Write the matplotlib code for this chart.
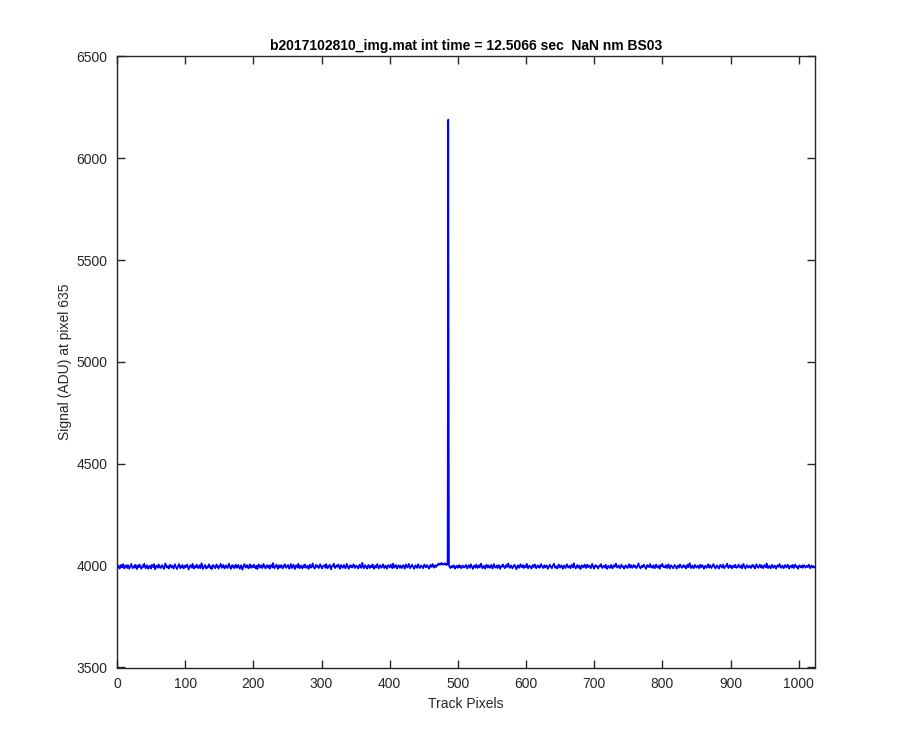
import matplotlib
matplotlib.use("Agg")
import matplotlib.pyplot as plt
import numpy as np

# Track pixel positions (1024-pixel track)
track_pixels = np.arange(0, 1024)

# Signal (ADU) at pixel 635
signal = [
    3996, 3989, 4001, 3993, 3985, 3998, 4004, 3991, 3995, 4007, 3990, 3986, 3999, 4002, 3994, 3988,
    4003, 3997, 3984, 3992, 4000, 4009, 3995, 3987, 3993, 3999, 3990, 4005, 3998, 3983, 3994, 4001,
    3992, 4006, 3996, 3989, 3985, 3997, 4003, 3993, 4010, 3999, 3987, 3991, 4002, 3996, 3984, 3995,
    4000, 3991, 3986, 4004, 3998, 3993, 4008, 3990, 3982, 3997, 4001, 3994, 3989, 4006, 4000, 3992,
    3988, 3995, 4003, 3999, 3987, 3984, 3996, 4011, 4002, 3990, 3994, 3999, 3986, 3993, 4005, 3997,
    3991, 4000, 3993, 3985, 3998, 4007, 3996, 3989, 3983, 3995, 4002, 4008, 3992, 3987, 3999, 3994,
    4004, 3990, 3986, 3997, 4001, 3992, 3999, 4006, 3993, 3981, 3990, 3998, 4003, 3995, 3989, 4009,
    3996, 3985, 3994, 4000, 3991, 4005, 3998, 3988, 3995, 4002, 3987, 3993, 4012, 3997, 3984, 3991,
    3999, 4004, 3992, 3986, 3996, 3990, 4001, 4007, 3994, 3988, 3998, 3983, 3995, 4003, 4000, 3990,
    3987, 3997, 4006, 3993, 3999, 3985, 3992, 4000, 4009, 3996, 3989, 3994, 4004, 3991, 3986, 3998,
    4002, 3994, 3988, 3995, 4010, 4001, 3990, 3984, 3997, 4003, 3993, 3999, 3987, 3992, 4005, 3996,
    3989, 3999, 4004, 3992, 3985, 3996, 4002, 3994, 3980, 3991, 4000, 4008, 3997, 3990, 3995, 4003,
    3993, 3986, 3998, 4007, 3995, 3989, 4001, 3996, 3992, 4005, 3998, 3987, 3994, 4000, 3983, 3997,
    4006, 3999, 3990, 3994, 4002, 3988, 3993, 4009, 4000, 3991, 3986, 3997, 4003, 3995, 3990, 4001,
    3985, 3996, 4004, 3998, 3991, 4013, 3997, 3987, 3994, 3999, 4006, 3992, 3984, 3996, 4002, 3990,
    3998, 4003, 3993, 3986, 3999, 3995, 4007, 4001, 3989, 3993, 3998, 4004, 3990, 3985, 3997, 4008,
    3994, 3988, 4000, 4005, 3992, 3983, 3996, 4002, 3997, 3990, 4009, 3999, 3987, 3994, 4001, 3993,
    3986, 3997, 4003, 3991, 4006, 3998, 3989, 3995, 4000, 3984, 3992, 4005, 3996, 3990, 3999, 4011,
    3995, 3990, 3985, 3998, 4004, 3993, 4001, 3996, 3988, 3994, 4007, 4002, 3991, 3986, 3997, 4000,
    4003, 3994, 3989, 4008, 3996, 3987, 3992, 3999, 4005, 3993, 3982, 3995, 4001, 3997, 4010, 3992,
    3988, 3996, 4002, 3994, 3999, 4006, 3990, 3985, 3997, 4003, 3994, 3989, 3998, 4004, 3992, 3987,
    3995, 4009, 3998, 3991, 3984, 3997, 4002, 3993, 4000, 3990, 3996, 4007, 3999, 3988, 3994, 4001,
    3997, 3990, 3986, 4000, 4005, 3994, 3989, 3998, 4014, 3995, 3987, 3993, 4003, 3996, 3991, 3985,
    3999, 4004, 3993, 3988, 3996, 4001, 3992, 4006, 3997, 3984, 3995, 4000, 3990, 3998, 4008, 3994,
    3986, 3993, 4002, 3997, 3990, 3995, 4007, 3999, 3988, 3994, 4001, 3992, 3985, 3996, 4003, 4000,
    3991, 3998, 4005, 3994, 3987, 4010, 3996, 3990, 3999, 4004, 3993, 3986, 3997, 4002, 3995, 3989,
    4001, 3994, 3988, 3996, 4003, 3999, 3985, 3992, 4006, 3998, 3991, 3995, 4009, 3997, 3987, 3993,
    3998, 4005, 3996, 3990, 3984, 3997, 4002, 3994, 3989, 4000, 4007, 3993, 3988, 3995, 4001, 3997,
    3992, 3987, 3999, 4006, 3998, 3991, 3995, 4003, 3996, 3990, 3985, 3998, 4004, 3994, 3999, 4008,
    3995, 3990, 3997, 4002, 3993, 3999, 4004, 4009, 4003, 4007, 4011, 4005, 4013, 4008, 4004, 4010,
    4006, 4012, 4007, 4003, 4009, 4005, 6190, 4001, 3995, 3988, 3993, 3999, 3991, 3996, 4002, 3990,
    3985, 3997, 3994, 4000, 3989, 3995, 4003, 3992, 3998, 3987, 3993, 4001, 3996, 3990, 3994, 3999,
    4004, 3991, 3986, 3997, 4002, 3995, 3989, 4007, 3998, 3993, 3984, 3996, 4001, 3994, 3990, 4006,
    3997, 3988, 3995, 4003, 3992, 3999, 4010, 3996, 3987, 3994, 4000, 3991, 3985, 3998, 4005, 3993,
    3990, 4002, 3996, 3989, 3997, 4004, 3993, 3986, 3999, 4008, 3995, 3990, 3996, 4001, 3988, 3994,
    4003, 3997, 3984, 3992, 4000, 3995, 4006, 3999, 3991, 3987, 3998, 4004, 3993, 3996, 4011, 3998,
    3989, 3994, 4001, 3996, 3986, 3993, 3999, 4005, 3997, 3990, 3982, 3995, 4002, 3994, 3989, 4000,
    4007, 3996, 3991, 3998, 4003, 3988, 3994, 4000, 3992, 4009, 3999, 3986, 3993, 4001, 3996, 3990,
    3985, 3997, 4004, 3993, 3998, 4006, 3991, 3987, 3995, 4002, 3994, 3999, 3989, 3996, 4008, 4001,
    3993, 3988, 3996, 4003, 3990, 3995, 4001, 3997, 3984, 3992, 3999, 4005, 3996, 3991, 3987, 3998,
    4004, 4010, 3995, 3989, 3997, 3992, 3986, 3999, 4006, 3994, 3990, 3997, 4002, 3993, 3985, 3996,
    4001, 3994, 3988, 3998, 4007, 3996, 3991, 3995, 4000, 3987, 3993, 4004, 3997, 3990, 4012, 3999,
    3992, 3986, 3997, 4003, 3994, 3989, 4001, 3996, 3983, 3995, 4002, 3998, 3991, 3996, 4006, 3993,
    3988, 3999, 4005, 3992, 3997, 4001, 3994, 3987, 3996, 4009, 4000, 3990, 3985, 3997, 4003, 3995,
    3999, 3991, 3986, 3995, 4002, 3997, 4008, 3993, 3988, 3994, 4000, 3996, 3990, 4005, 3998, 3984,
    3993, 4000, 3996, 3989, 3995, 4004, 3991, 3986, 3998, 4003, 3994, 3999, 4010, 3996, 3990, 3995,
    4001, 3994, 3987, 3997, 4006, 3999, 3992, 3996, 3985, 3993, 4002, 3997, 3991, 3988, 3999, 4007,
    3996, 3990, 4003, 3995, 3989, 3998, 4004, 3993, 4000, 3996, 3987, 3994, 4001, 4011, 3997, 3991,
    3986, 3995, 4000, 3992, 3998, 4005, 3996, 3990, 3984, 3997, 4003, 3994, 3999, 3993, 4008, 4000,
    3991, 3997, 3989, 4002, 3995, 3987, 3999, 4006, 3994, 3990, 3996, 4001, 3985, 3993, 4004, 3997,
    4009, 3998, 3992, 3996, 3990, 4003, 3995, 3988, 4000, 4007, 3993, 3986, 3997, 4002, 3996, 3991,
    3987, 3995, 4004, 3999, 3993, 3985, 3996, 4001, 3997, 3990, 4006, 3999, 3994, 3989, 3996, 4003,
    3994, 4000, 3991, 3986, 3998, 4005, 3992, 3997, 4012, 3996, 3988, 3995, 4001, 3993, 3987, 3999,
    4004, 3996, 3990, 3995, 4001, 3994, 3987, 3999, 4005, 3991, 3997, 4002, 3994, 3984, 3996, 4000,
    3993, 3989, 3998, 4007, 3996, 3990, 4003, 3995, 3988, 3994, 4001, 4008, 3997, 3992, 3986, 3995,
    4002, 3997, 3991, 3985, 3996, 4004, 3999, 3993, 3990, 4006, 3996, 3987, 3994, 4000, 3998, 4010,
    3995, 3988, 3997, 4003, 3992, 3999, 3986, 3994, 4001, 3997, 3991, 4005, 3996, 3989, 3993, 3999,
    4006, 3994, 3990, 3996, 4002, 3987, 3995, 4009, 3998, 3992, 3985, 3997, 4003, 3996, 3990, 3994,
    4000, 3993, 3988, 3998, 4004, 3995, 4001, 3991, 3986, 3996, 4007, 3999, 3993, 3989, 3997, 4005,
    3996, 3990, 4002, 3994, 3987, 3998, 4003, 3995, 3991, 4011, 3997, 3988, 3994, 4000, 3992, 3986,
    3998, 4004, 3995, 3990, 3997, 4001, 3993, 3985, 3996, 4002, 3994, 3999, 4008, 3995, 3989, 3993,
    4001, 3996, 3987, 3994, 4003, 3997, 3991, 3999, 4005, 3993, 3986, 3995, 4000, 3997, 3990, 4004,
    3994, 3988, 3999, 4006, 3996, 3992, 3997, 3984, 3993, 4002, 3998, 3991, 3995, 4001, 3989, 3996,
    4003, 3997, 3990, 3995, 4000, 3993, 3998, 4005, 3992, 3987, 3996, 4001, 3994, 3990, 3997, 3992,
]

title = "b2017102810_img.mat int time = 12.5066 sec  NaN nm BS03"
xlabel = "Track Pixels"
ylabel = "Signal (ADU) at pixel 635"
xticks = list(range(0, 1001, 100))
yticks = list(range(3500, 6501, 500))

plt.rcParams['font.family'] = ['Liberation Sans', 'DejaVu Sans']

fig = plt.figure(figsize=(9, 7.5), dpi=100)
ax = fig.add_axes([0.13, 0.11, 0.7756, 0.8147])
ax.plot(track_pixels, signal, color=(0, 0, 1), lw=1.2)

ax.set_xlim(0, 1024)
ax.set_ylim(3500, 6500)
ax.set_xticks(xticks)
ax.set_yticks(yticks)
axcol = (0.15, 0.15, 0.15)
for s in ax.spines.values():
    s.set_color(axcol)
    s.set_linewidth(1.0)
ax.tick_params(direction='in', length=6, width=1.0, colors=axcol,
               top=True, right=True, labelsize=10, pad=7)
ax.set_title(title, fontsize=10, fontweight='bold', pad=5)
ax.set_xlabel(xlabel, fontsize=10, color=axcol, labelpad=4)
ax.set_ylabel(ylabel, fontsize=10, color=axcol, labelpad=3)

fig.savefig("out.png", dpi=100)
